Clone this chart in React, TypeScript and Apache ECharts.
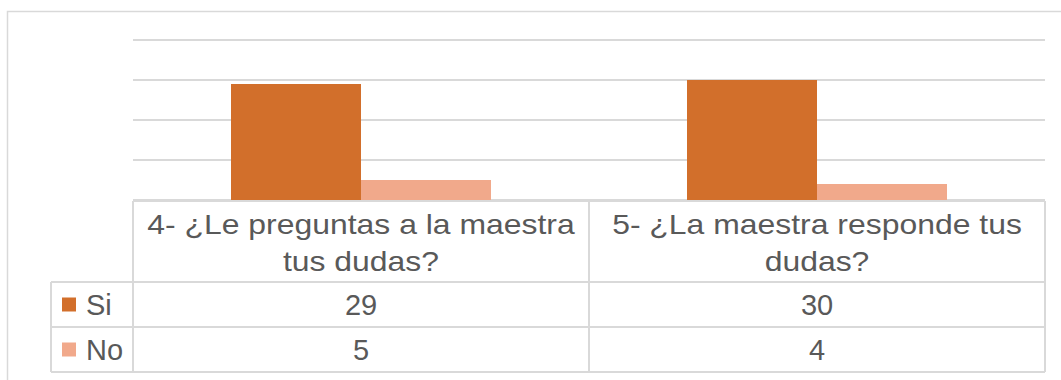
import React, { useEffect, useRef } from "react";
import * as echarts from "echarts";

const categories = ["4- ¿Le preguntas a la maestra\ntus dudas?", "5- ¿La maestra responde tus\ndudas?"];
const seriesNames = ["Si", "No"];
const siValues = [29, 30];
const noValues = [5, 4];
const colors = ["#D26F2B", "#F1A98B"];

const GRID_L = 133;
const GRID_R = 1045;
const TABLE_TOP = 201;
const HEADER_BOTTOM = 282;
const ROW_H = 45;
const TABLE_LEFT = 51;
const LINE = "#D9D9D9";
const TEXT = "#595959";
const FONT = "Liberation Sans, Arial, sans-serif";

export default function App() {
  const ref = useRef<HTMLDivElement>(null);
  useEffect(() => {
    const chart = echarts.init(ref.current!, null, { renderer: "svg" });
    const colW = (GRID_R - GRID_L) / categories.length;
    const rows = [siValues, noValues];
    const g: any[] = [];
    g.push({ type: "rect", shape: { x: 7.5, y: 11.5, width: 1200, height: 500 }, style: { fill: "none", stroke: LINE, lineWidth: 1.5 }, silent: true });
    g.push({ type: "line", shape: { x1: GRID_L, y1: TABLE_TOP, x2: GRID_R, y2: TABLE_TOP }, style: { stroke: LINE, lineWidth: 2 } });
    for (let r = 0; r <= rows.length; r++) {
      const y = HEADER_BOTTOM + r * ROW_H;
      g.push({ type: "line", shape: { x1: TABLE_LEFT, y1: y, x2: GRID_R, y2: y }, style: { stroke: LINE, lineWidth: 2 } });
    }
    const bottom = HEADER_BOTTOM + rows.length * ROW_H;
    g.push({ type: "line", shape: { x1: TABLE_LEFT, y1: HEADER_BOTTOM, x2: TABLE_LEFT, y2: bottom }, style: { stroke: LINE, lineWidth: 2 } });
    for (let c = 0; c <= categories.length; c++) {
      const x = GRID_L + c * colW;
      g.push({ type: "line", shape: { x1: x, y1: TABLE_TOP, x2: x, y2: bottom }, style: { stroke: LINE, lineWidth: 2 } });
    }
    categories.forEach((cat, i) => {
      g.push({
        type: "text", x: GRID_L + (i + 0.5) * colW, y: (TABLE_TOP + HEADER_BOTTOM) / 2 + 1, scaleX: 1.12,
        style: { text: cat, fontSize: 28.5, lineHeight: 37, fontFamily: FONT, fill: TEXT, textAlign: "center", textVerticalAlign: "middle" },
      });
    });
    rows.forEach((vals, r) => {
      const cy = HEADER_BOTTOM + (r + 0.5) * ROW_H;
      g.push({ type: "rect", shape: { x: 62, y: cy - 7, width: 14, height: 14 }, style: { fill: colors[r] } });
      g.push({
        type: "text", x: 86, y: cy,
        style: { text: seriesNames[r], fontSize: 29, fontFamily: FONT, fill: TEXT, textAlign: "left", textVerticalAlign: "middle" },
      });
      vals.forEach((v, i) => {
        g.push({
          type: "text", x: GRID_L + (i + 0.5) * colW, y: cy,
          style: { text: String(v), fontSize: 29, fontFamily: FONT, fill: TEXT, textAlign: "center", textVerticalAlign: "middle" },
        });
      });
    });

    chart.setOption({
      animation: false,
      grid: { left: GRID_L, right: 1061 - GRID_R, top: 40, bottom: 380 - 200 },
      xAxis: { type: "category", data: categories, axisLine: { show: false }, axisTick: { show: false }, axisLabel: { show: false } },
      yAxis: {
        type: "value", min: 0, max: 40, interval: 10,
        axisLabel: { show: false }, axisLine: { show: false }, axisTick: { show: false },
        splitLine: { lineStyle: { color: LINE, width: 2 } },
      },
      series: [
        { name: seriesNames[0], type: "bar", data: siValues, barWidth: 130, barGap: "0%", itemStyle: { color: colors[0] } },
        { name: seriesNames[1], type: "bar", data: noValues, barWidth: 130, barGap: "0%", itemStyle: { color: colors[1] } },
      ],
      graphic: g,
    });
    return () => chart.dispose();
  }, []);
  return <div ref={ref} style={{ position: "fixed", left: 0, top: 0, width: 1061, height: 380, background: "#fff" }} />;
}
